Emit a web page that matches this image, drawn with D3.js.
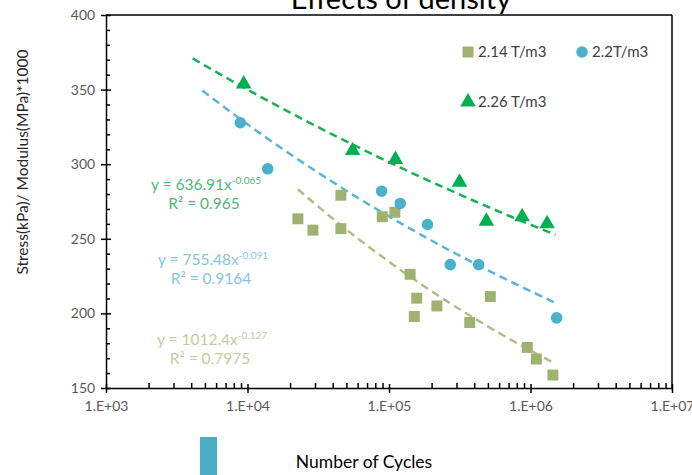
<!DOCTYPE html>
<html><head><meta charset="utf-8">
<script src="https://cdn.jsdelivr.net/npm/d3@7"></script>
<style>body{margin:0;background:#fff;}svg{display:block;}</style>
</head><body><svg id="c" width="692" height="475"></svg>
<script>
// ---- data ----
const seriesNames = ["2.14 T/m3", "2.2T/m3", "2.26 T/m3"];
const cycles214 = [2.27e4, 2.9e4, 4.57e4, 4.57e4, 8.96e4, 1.1e5, 1.41e5, 1.57e5, 1.51e5, 2.18e5, 3.72e5, 5.2e5, 9.5e5, 1.1e6, 1.44e6];
const stress214 = [263.4, 255.8, 279.2, 256.8, 264.8, 267.8, 226.2, 210.2, 197.9, 205, 193.9, 211.3, 177.2, 169.4, 158.7];
const cycles22 = [8.9e3, 1.39e4, 8.87e4, 1.2e5, 1.87e5, 2.71e5, 4.3e5, 1.53e6];
const stress22 = [327.8, 296.9, 281.9, 273.7, 259.6, 232.7, 232.7, 197];
const cycles226 = [9.4e3, 5.53e4, 1.11e5, 3.15e5, 4.88e5, 8.73e5, 1.31e6];
const stress226 = [353.7, 309.1, 303.1, 287.9, 261.8, 264.8, 260.1];
// trend lines: y = a * x^b (from chart labels)
const trendA = [1012.4, 755.48, 636.91];
const trendB = [-0.127, -0.091, -0.065];
const trendStart = [2.27e4, 4.8e3, 4.1e3];
const trendEnd = [1.5e6, 1.5e6, 1.5e6];
const eqText = ["y = 1012.4x", "y = 755.48x", "y = 636.91x"];
const eqExp = ["-0.127", "-0.091", "-0.065"];
const r2Text = ["R² = 0.7975", "R² = 0.9164", "R² = 0.965"];
const xTickValues = [1e3, 1e4, 1e5, 1e6, 1e7];
const xTickLabels = ["1.E+03", "1.E+04", "1.E+05", "1.E+06", "1.E+07"];
const yTickValues = [150, 200, 250, 300, 350, 400];

// ---- styles ----
const markColors = ["#9fb26f", "#4bb0cc", "#00b050"];
const lineColors = ["#b9b98c", "#5bb6d3", "#1aae55"];
const eqColors = ["#c9c8a6", "#86c6db", "#4cb878"];
const font = "Lato, 'Open Sans', sans-serif";

const svg = d3.select("#c");
const x = d3.scaleLog().domain([1e3, 1e7]).range([106, 672]);
const y = d3.scaleLinear().domain([150, 400]).range([388, 15]);

// title (cut off at top, as in the reference)
svg.append("text").attr("x", 401).attr("y", 9).attr("text-anchor", "middle")
  .attr("font-family", font).attr("font-size", 29).attr("fill", "#000").text("Effects of density");

// frame top/right
svg.append("line").attr("x1", 106).attr("x2", 672).attr("y1", 15).attr("y2", 15).attr("stroke", "#000").attr("stroke-width", 1.5);
svg.append("line").attr("x1", 672).attr("x2", 672).attr("y1", 15).attr("y2", 388).attr("stroke", "#000").attr("stroke-width", 1.5);

// x axis
const minorX = [];
for (let d = 1e3; d < 1e7; d *= 10) for (let k = 2; k <= 9; k++) minorX.push(d * k);
const gx = svg.append("g").attr("transform", "translate(0,388)");
gx.call(d3.axisBottom(x).tickValues(minorX).tickSize(-5).tickFormat(""))
  .call(g => g.select(".domain").remove());
gx.append("g").call(d3.axisBottom(x).tickValues(xTickValues).tickSize(5).tickSizeOuter(0)
  .tickFormat((d, i) => xTickLabels[i]))
  .call(g => g.selectAll(".tick line").attr("y1", -4))
  .call(g => g.selectAll("text").attr("font-family", font).attr("font-size", 14).attr("fill", "#595959").attr("dy", "1.1em"));
gx.selectAll("line, path").attr("stroke", "#000").attr("stroke-width", 1.5);

// y axis
const minorY = d3.range(160, 400, 10).filter(v => v % 50 !== 0);
const gy = svg.append("g").attr("transform", "translate(106,0)");
gy.call(d3.axisLeft(y).tickValues(minorY).tickSize(-4).tickFormat(""))
  .call(g => g.select(".domain").remove());
gy.append("g").call(d3.axisLeft(y).tickValues(yTickValues).tickSize(5).tickSizeOuter(0))
  .call(g => g.selectAll(".tick line").attr("x1", 5))
  .call(g => g.selectAll("text").attr("font-family", font).attr("font-size", 14).attr("fill", "#595959").attr("dx", "-0.2em"));
gy.selectAll("line, path").attr("stroke", "#000").attr("stroke-width", 1.5);

// axis titles
svg.append("text").attr("transform", "translate(28,162) rotate(-90)").attr("text-anchor", "middle")
  .attr("font-family", font).attr("font-size", 15.5).attr("fill", "#262626").text("Stress(kPa)/ Modulus(MPa)*1000");
svg.append("text").attr("x", 364).attr("y", 468).attr("text-anchor", "middle")
  .attr("font-family", font).attr("font-size", 17.5).attr("fill", "#000").text("Number of Cycles");
svg.append("rect").attr("x", 200).attr("y", 437).attr("width", 17).attr("height", 40).attr("fill", "#4bacc6");

// trend lines
for (let s = 0; s < 3; s++) {
  const xs = d3.range(0, 41).map(i => Math.pow(10, Math.log10(trendStart[s]) + (Math.log10(trendEnd[s]) - Math.log10(trendStart[s])) * i / 40));
  const line = d3.line().x(d => x(d)).y(d => y(trendA[s] * Math.pow(d, trendB[s])));
  svg.append("path").datum(xs).attr("d", line).attr("fill", "none")
    .attr("stroke", lineColors[s]).attr("stroke-width", 2.5).attr("stroke-dasharray", "8,5");
}

// markers
const data = [[cycles214, stress214], [cycles22, stress22], [cycles226, stress226]];
const symTypes = [d3.symbolSquare, d3.symbolCircle, d3.symbolTriangle];
const symSizes = [120, 105, 105];
data.forEach(([xs, ys], s) => {
  svg.append("g").selectAll("path").data(xs).join("path")
    .attr("transform", (d, i) => `translate(${x(d)},${y(ys[i])})`)
    .attr("d", d3.symbol().type(symTypes[s]).size(symSizes[s]))
    .attr("fill", markColors[s]);
});

// equations
const eqPos = [[212, 345], [213, 265], [206, 190]];
for (let s = 0; s < 3; s++) {
  const t = svg.append("text").attr("x", eqPos[s][0]).attr("y", eqPos[s][1]).attr("text-anchor", "middle")
    .attr("font-family", font).attr("font-size", 15.5).attr("fill", eqColors[s]);
  t.append("tspan").text(eqText[s]);
  t.append("tspan").attr("dy", -6).attr("font-size", 10).text(eqExp[s]);
  svg.append("text").attr("x", eqPos[s][0] - 2).attr("y", eqPos[s][1] + 19).attr("text-anchor", "middle")
    .attr("font-family", font).attr("font-size", 15.5).attr("fill", eqColors[s]).text(r2Text[s]);
}

// legend
const legPos = [[468, 52], [582, 52], [468, 102]];
legPos.forEach((p, s) => {
  svg.append("path").attr("transform", `translate(${p[0]},${p[1]})`)
    .attr("d", d3.symbol().type(symTypes[s]).size(symSizes[s])).attr("fill", markColors[s]);
  svg.append("text").attr("x", p[0] + 10).attr("y", p[1] + 5)
    .attr("font-family", font).attr("font-size", 15).attr("fill", "#404040").text(seriesNames[s]);
});
</script></body></html>
